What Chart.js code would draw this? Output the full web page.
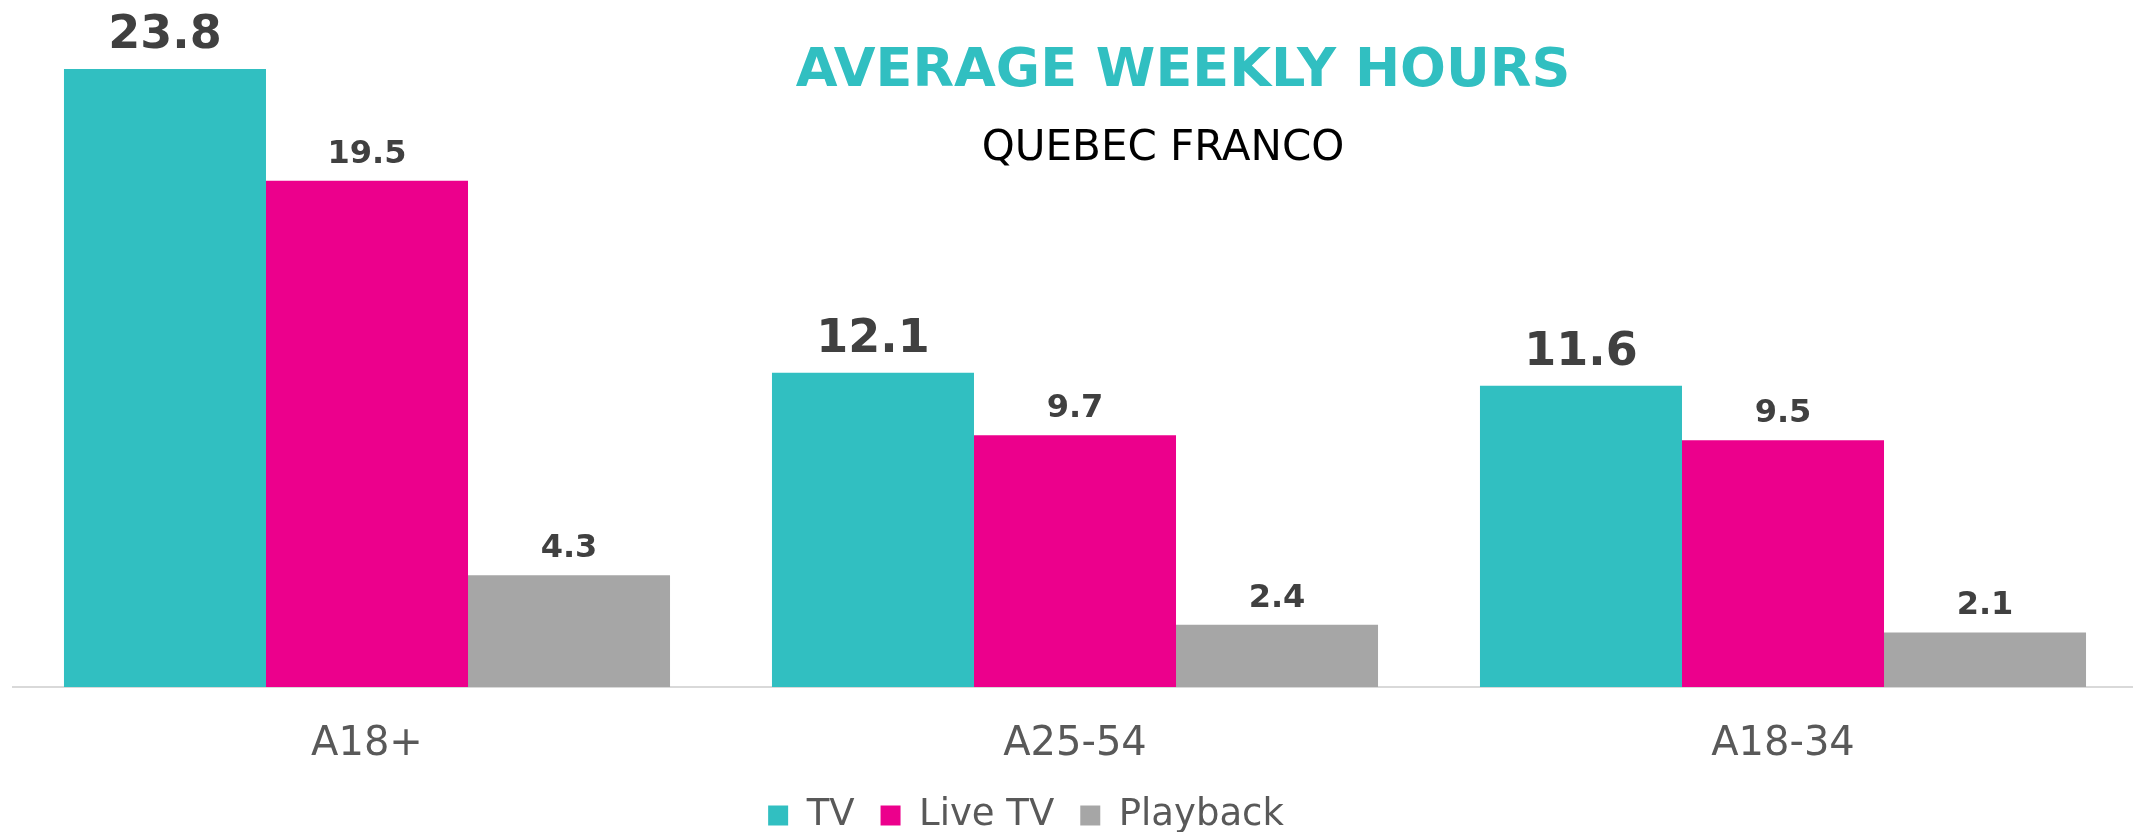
<!DOCTYPE html>
<html>
<head>
<meta charset="utf-8">
<script src="https://cdn.jsdelivr.net/npm/chart.js@4"></script>
<style>
  html, body { margin: 0; padding: 0; background: #fff; }
  #wrap { width: 2133px; height: 832px; }
</style>
</head>
<body>
<div id="wrap"><canvas id="chart"></canvas></div>
<script>
const categories = ['A18+', 'A25-54', 'A18-34'];
const seriesNames = ['TV', 'Live TV', 'Playback'];
const tvHours = [23.8, 12.1, 11.6];
const liveHours = [19.5, 9.7, 9.5];
const playbackHours = [4.3, 2.4, 2.1];
const colours = ['#31BFC1', '#EC008C', '#A6A6A6'];

const FONT = "'DejaVu Sans', Verdana, sans-serif";

// title, subtitle and value labels drawn on the canvas
const textPlugin = {
    id: 'texts',
    afterLayout(chart) {
        // the plot runs slightly past the right edge in the original
        const x = chart.scales.x;
        x.right += 4;
        x.width += 4;
        x.configure();
        // legend sits a bit left of centre and lower in the original
        const lg = chart.legend;
        lg.left -= 47;
        lg.right -= 47;
        const h = lg.height;
        lg.top = 771;
        lg.bottom = lg.top + h;
    },
    afterDatasetsDraw(chart) {
        const ctx = chart.ctx;
        ctx.save();
        ctx.textAlign = 'center';
        ctx.textBaseline = 'middle';
        ctx.fillStyle = '#31BFC1';
        ctx.font = 'bold 54px ' + FONT;
        ctx.fillText('AVERAGE WEEKLY HOURS', 1183, 72);
        ctx.fillStyle = '#000';
        ctx.font = '42px ' + FONT;
        ctx.fillText('QUEBEC FRANCO', 1163, 149);

        ctx.fillStyle = '#404040';
        ctx.textBaseline = 'alphabetic';
        chart.data.datasets.forEach(function(ds, d) {
            const meta = chart.getDatasetMeta(d);
            meta.data.forEach(function(bar, i) {
                if (d === 0) {
                    ctx.font = 'bold 46px ' + FONT;
                    ctx.fillText(ds.data[i].toFixed(1), bar.x, bar.y - 21);
                } else {
                    ctx.font = 'bold 32px ' + FONT;
                    ctx.fillText(ds.data[i].toFixed(1), bar.x, bar.y - 18);
                }
            });
        });
        ctx.restore();
    }
};

new Chart(document.getElementById('chart'), {
    type: 'bar',
    data: {
        labels: categories,
        datasets: [
            { label: seriesNames[0], data: tvHours, backgroundColor: colours[0] },
            { label: seriesNames[1], data: liveHours, backgroundColor: colours[1] },
            { label: seriesNames[2], data: playbackHours, backgroundColor: colours[2] }
        ]
    },
    options: {
        responsive: true,
        maintainAspectRatio: false,
        animation: false,
        layout: { padding: { top: 12, left: 13, right: 0, bottom: -36 } },
        datasets: { bar: { categoryPercentage: 0.856, barPercentage: 1.0 } },
        scales: {
            x: {
                grid: { display: false },
                border: { display: true, color: '#D9D9D9', width: 2 },
                ticks: { color: '#595959', font: { family: FONT, size: 40 }, padding: 26 }
            },
            y: {
                display: false,
                min: 0,
                max: 26
            }
        },
        plugins: {
            legend: {
                position: 'bottom',
                labels: {
                    color: '#595959',
                    font: { family: FONT, size: 37 },
                    boxWidth: 20,
                    boxHeight: 20,
                    padding: 26
                }
            },
            tooltip: { enabled: false }
        }
    },
    plugins: [textPlugin]
});
</script>
</body>
</html>
